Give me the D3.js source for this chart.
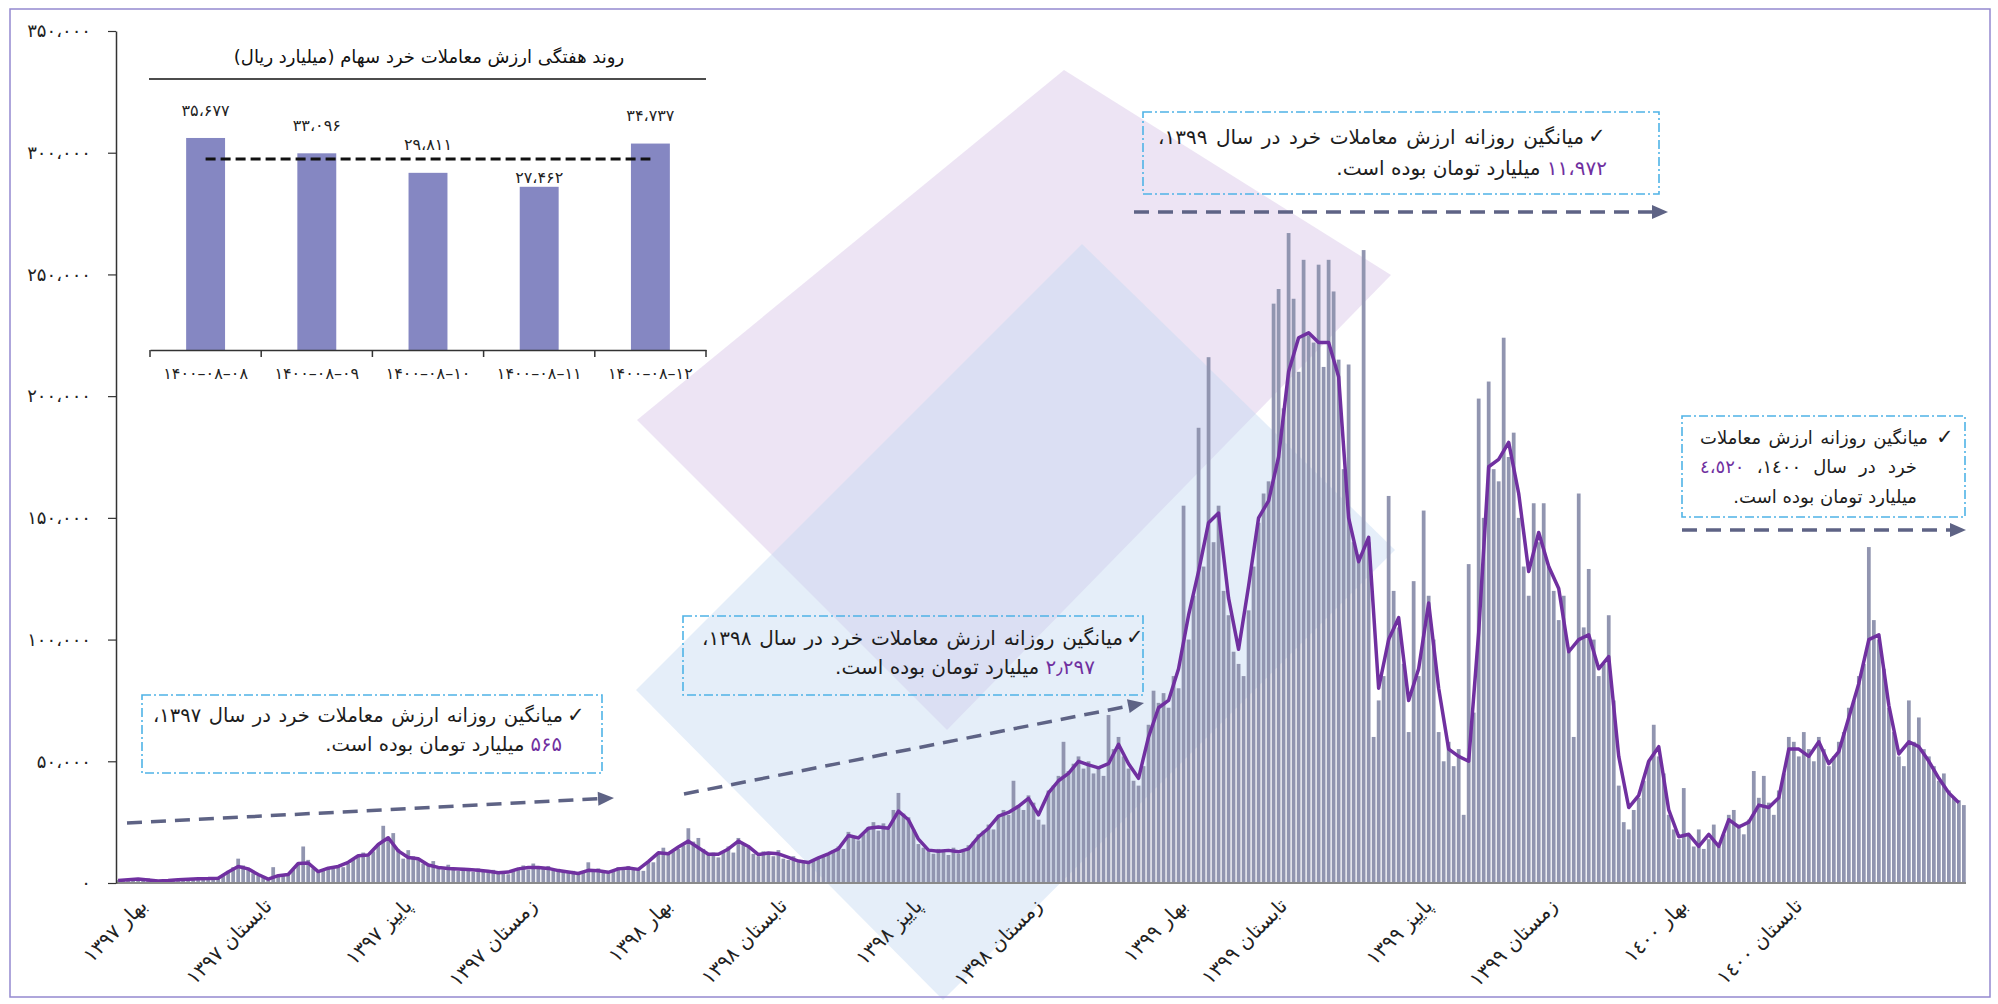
<!DOCTYPE html>
<html><head><meta charset="utf-8">
<script src="https://cdn.jsdelivr.net/npm/d3@7"></script>
<style>
body{margin:0;background:#fff;}
#wrap{position:relative;width:1998px;height:1004px;overflow:hidden;font-family:'DejaVu Sans',sans-serif;background:#fff;}
svg{position:absolute;left:0;top:0;}
.ln{position:absolute;white-space:nowrap;direction:rtl;color:#1d1d1d;line-height:26px;}
.just{display:flex;justify-content:space-between;}
.just > span{flex:0 0 auto;}
.num{color:#7030a0;}
</style></head><body><div id="wrap"></div>
<script>
// ---------- DATA ----------
// daily retail trading value (thousands of billion rial), approx. every other trading day
const dailyValueK = [
1.2,0.8,1.5,2.0,1.1,1.6,1.9,1.3,0.9,0.6,
0.8,1.2,1.0,1.6,1.4,1.9,1.5,2.2,1.8,2.1,
2.5,3.2,5.0,6.5,10.0,7.2,5.5,4.0,3.0,2.2,
1.5,6.5,2.5,3.0,3.6,5.5,8.0,15.0,9.5,6.0,
4.5,5.0,6.5,5.8,7.2,6.5,8.0,9.5,11.0,12.5,
11.0,13.0,16.0,23.5,19.0,20.5,14.0,10.0,13.5,11.0,
9.5,8.0,7.0,9.0,6.5,5.5,7.5,6.0,5.0,6.2,
5.8,4.6,6.0,5.2,4.5,5.4,4.0,4.8,3.6,5.0,
6.0,7.2,5.5,8.0,6.8,6.0,7.0,5.2,5.8,4.6,
4.2,5.0,3.5,4.4,8.5,5.5,6.0,4.6,4.0,5.0,
6.5,5.5,7.0,5.8,6.0,5.0,9.0,8.5,12.0,14.5,
11.5,13.0,14.0,15.5,22.5,17.0,18.5,14.0,11.5,12.5,
10.5,13.0,15.0,12.5,18.5,16.0,14.5,12.0,11.0,13.0,
12.5,11.0,13.5,10.0,9.5,11.0,8.5,9.0,8.0,9.5,
10.0,11.5,12.0,13.5,15.0,14.0,21.0,19.0,17.5,20.0,
23.0,25.0,21.5,24.5,22.0,30.0,37.0,28.5,27.0,22.0,
16.0,14.5,13.0,12.0,14.0,13.5,11.5,14.5,12.0,13.0,
15.5,17.0,20.0,21.5,24.0,22.0,27.5,30.0,28.0,42.0,
32.0,30.0,36.0,33.0,26.0,24.0,38.0,40.0,44.0,58.0,
46.0,49.0,52.0,47.0,50.0,45.0,48.0,44.0,69.0,55.0,
60.0,52.0,47.0,42.0,40.0,48.0,65.0,79.0,74.0,78.0,
72,85,80,155,100,118,187,130,216,140,
155,120,110,95,90,85,112,130,148,160,
165,238,244,195,267,240,210,256,225,222,
254,212,256,243,215,170,213,140,135,260,
140,60,75,85,159,120,105,90,62,124,
85,153,118,100,62,50,58,48,55,28,
131,70,199,150,206,170,165,224,175,185,
150,130,118,156,140,156,130,120,108,118,
95,60,160,105,129,100,85,90,110,75,
40,25,22,30,35,42,50,65,52,45,
28,22,18,39,20,15,22,14,18,24,
15,20,28,30,24,20,26,46,35,44,
33,28,38,45,60,58,52,62,55,50,
60,55,48,52,58,62,72,75,85,90,
138,108,100,88,72,62,52,48,75,58,
68,55,52,48,42,45,38,35,34,32
];
// moving average (thousands), one value per two bars
const movingAvgK = [
1.0,1.3,1.6,1.2,0.8,1.0,1.3,1.5,1.7,1.8,
2.0,4.5,6.8,5.8,3.5,1.6,3.0,3.5,8.0,8.2,
4.7,6.1,6.8,8.5,11.2,11.5,15.8,18.6,13.2,10.5,
10.0,7.4,6.4,6.0,5.8,5.5,5.2,4.8,4.2,4.5,
5.8,6.4,6.4,6.0,5.1,4.5,3.9,5.2,5.0,4.4,
5.8,6.2,5.6,8.8,12.4,12.0,14.8,17.2,14.5,11.8,
11.8,14.0,17.2,15.0,11.7,12.3,12.0,10.5,9.0,8.4,
10.3,12.0,14.0,19.5,18.5,22.5,23.0,22.5,29.5,26.0,
18.0,13.5,13.0,13.4,12.8,14.0,19.0,22.5,27.5,29.0,
31.5,34.8,28.0,37.0,42.0,45.0,50.0,48.5,47.3,49.0,
57.0,49.0,43.0,60.0,72.0,75.0,88.0,110.0,128.0,148.0,
152,117,96,122,150,157,175,210,224,226,
222,222,208,150,132,142,80,100,109,75,
88,115,80,55,52,50,103,171,174,181,
160,128,144,130,121,95,100,102,88,93,
52,31,36,50,56,30,19,20,15,20,
15,26,23,25,32,31,35,55,55,52,
58,49,54,68,82,100,102,73,53,58,
56,50,43,37,33
];
const seasonLabels = ["بهار ۱۳۹۷","تابستان ۱۳۹۷","پاییز ۱۳۹۷","زمستان ۱۳۹۷","بهار ۱۳۹۸","تابستان ۱۳۹۸","پاییز ۱۳۹۸","زمستان ۱۳۹۸","بهار ۱۳۹۹","تابستان ۱۳۹۹","پاییز ۱۳۹۹","زمستان ۱۳۹۹","بهار ۱٤۰۰","تابستان ۱٤۰۰"];
const seasonBarIndex = [5,30,58,83,110,133,160,184,213,233,262,287,313,336];
const yTicks = [0,50000,100000,150000,200000,250000,300000,350000];
const weeklyCats = ["۱۴۰۰–۰۸–۰۸","۱۴۰۰–۰۸–۰۹","۱۴۰۰–۰۸–۱۰","۱۴۰۰–۰۸–۱۱","۱۴۰۰–۰۸–۱۲"];
const weeklyValues = [35677,33096,29811,27462,34737];
const insetTitle = "روند هفتگی ارزش معاملات خرد سهام (میلیارد ریال)";

// ---------- HELPERS ----------
const faDigits = s => String(s).replace(/\d/g, d => '۰۱۲۳۴۵۶۷۸۹'[d]);
const fmt = v => faDigits(d3.format(",")(v)).replace(/,/g,'،');
const W = 1998, H = 1004;
const wrap = d3.select('#wrap');
const svg = wrap.append('svg').attr('width', W).attr('height', H);
const FONT = "'DejaVu Sans', sans-serif";

// ---------- WATERMARK ----------
const wm = svg.append('g');
wm.append('polygon').attr('points','637,420 1064,70 1391,275 947,730').attr('fill','#d6c3e6').attr('opacity',0.45);
wm.append('polygon').attr('points','636,690 1082,244 1395,550 943,1000').attr('fill','#c6daf1').attr('opacity',0.45);

// ---------- MAIN CHART ----------
const x = d3.scaleBand().domain(d3.range(dailyValueK.length)).range([116, 1966]).paddingInner(0.25).paddingOuter(0.05);
const y = d3.scaleLinear().domain([0, 350000]).range([883, 31]);
const bw = x.bandwidth();

svg.append('g').selectAll('rect').data(dailyValueK).join('rect')
  .attr('x', (d,i) => x(i)).attr('width', bw)
  .attr('y', d => y(d*1000)).attr('height', d => y(0) - y(d*1000))
  .attr('fill', '#9195b0');

const line = d3.line().x((d,j) => x(2*j) + bw/2).y(d => y(d*1000)).curve(d3.curveLinear);
svg.append('path').datum(movingAvgK).attr('d', line).attr('fill','none')
  .attr('stroke','#7030a0').attr('stroke-width',3.5).attr('stroke-linejoin','round');

svg.append('line').attr('x1',116).attr('x2',1966).attr('y1',y(0)).attr('y2',y(0)).attr('stroke','#8a8a8a').attr('stroke-width',2);

const yAxis = d3.axisLeft(y).tickValues(yTicks).tickSize(8).tickSizeOuter(0).tickPadding(17).tickFormat(fmt);
const ga = svg.append('g').attr('transform','translate(116,0)').call(yAxis);
ga.select('.domain').attr('stroke','#333').attr('stroke-width',1.5);
ga.selectAll('.tick line').attr('stroke','#333').attr('stroke-width',1.2);
ga.selectAll('text').attr('font-size',18).attr('font-family',FONT).attr('fill','#222');

svg.append('g').selectAll('text').data(seasonLabels).join('text')
  .attr('transform', (d,i) => `translate(${x(seasonBarIndex[i]) + bw/2},902) rotate(-45)`)
  .attr('text-anchor','end').attr('dy','0.35em')
  .attr('font-size',20).attr('font-family',FONT).attr('fill','#222')
  .text(d => d);

// ---------- INSET ----------
const ix = d3.scaleBand().domain(weeklyCats).range([150, 706]).paddingInner(0.65).paddingOuter(0.325);
const iy = d3.scaleLinear().domain([0, 45600]).range([350, 79]);
const ig = svg.append('g');
ig.append('text').attr('x',429).attr('y',57).attr('dy','0.35em').attr('text-anchor','middle')
  .attr('direction','rtl').style('direction','rtl')
  .attr('font-size',18).attr('font-family',FONT).attr('fill','#111').text(insetTitle);
ig.append('line').attr('x1',149).attr('x2',706).attr('y1',79).attr('y2',79).attr('stroke','#111').attr('stroke-width',1.5);
ig.selectAll('rect').data(weeklyValues).join('rect')
  .attr('x',(d,i)=>ix(weeklyCats[i])).attr('width',ix.bandwidth())
  .attr('y',d=>iy(d)).attr('height',d=>iy(0)-iy(d)).attr('fill','#8587c2');
const mean = d3.mean(weeklyValues);
const labelY = d => { const ly = iy(d) - 28; return Math.abs(ly - iy(mean)) < 12 ? iy(mean) + 19 : ly; };
ig.selectAll('text.val').data(weeklyValues).join('text').attr('class','val')
  .attr('x',(d,i)=>ix(weeklyCats[i])+ix.bandwidth()/2).attr('y',labelY).attr('dy','0.35em')
  .attr('text-anchor','middle').attr('font-size',16).attr('font-family',FONT).attr('fill','#222').text(fmt);
ig.append('line').attr('x1',ix(weeklyCats[0])+ix.bandwidth()/2).attr('x2',ix(weeklyCats[4])+ix.bandwidth()/2)
  .attr('y1',iy(mean)).attr('y2',iy(mean)).attr('stroke','#111').attr('stroke-width',3).attr('stroke-dasharray','10,5');
const ixAxis = d3.axisBottom(ix).tickSize(0).tickPadding(18);
const gia = ig.append('g').attr('transform','translate(0,350)').call(ixAxis);
gia.select('.domain').attr('stroke','#333').attr('stroke-width',1.5);
gia.selectAll('text').attr('font-size',16).attr('font-family',FONT).attr('fill','#222');
const bounds = weeklyCats.map(c => ix(c) - ix.step()*ix.paddingInner()/2).concat([706]);
ig.selectAll('line.bt').data(bounds).join('line').attr('class','bt')
  .attr('x1',d=>d).attr('x2',d=>d).attr('y1',350).attr('y2',357).attr('stroke','#333').attr('stroke-width',1.5);

// ---------- ANNOTATIONS ----------
const boxes = [
 {x0:142,y0:695,x1:602,y1:773,cx:573,lines:[
   {cy:716,left:153,right:563,words:["میانگین","روزانه","ارزش","معاملات","خرد","در","سال","۱۳۹۷،"]},
   {cy:745,right:562,html:'<span class="num">۵۶۵</span> میلیارد تومان بوده است.'}]},
 {x0:683,y0:616,x1:1143,y1:695,cx:1132,lines:[
   {cy:638,left:702,right:1123,words:["میانگین","روزانه","ارزش","معاملات","خرد","در","سال","۱۳۹۸،"]},
   {cy:667,right:1095,html:'<span class="num">۲٫۲۹۷</span> میلیارد تومان بوده است.'}]},
 {x0:1143,y0:112,x1:1659,y1:194,cx:1594,lines:[
   {cy:137,left:1158,right:1584,words:["میانگین","روزانه","ارزش","معاملات","خرد","در","سال","۱۳۹۹،"]},
   {cy:168,right:1607,html:'<span class="num">۱۱،۹۷۲</span> میلیارد تومان بوده است.'}]},
 {x0:1682,y0:416,x1:1965,y1:517,cx:1942,lines:[
   {cy:438,left:1700,right:1928,words:["میانگین","روزانه","ارزش","معاملات"]},
   {cy:467,left:1700,right:1917,words:["خرد","در","سال","۱٤۰۰،",'<span class="num">٤،٥٢٠</span>']},
   {cy:497,right:1917,html:'میلیارد تومان بوده است.'}]}
];
const FS = 20;
boxes.forEach(b => {
  svg.append('rect').attr('x',b.x0).attr('y',b.y0).attr('width',b.x1-b.x0).attr('height',b.y1-b.y0)
    .attr('fill','none').attr('stroke','#4fb3e6').attr('stroke-width',1.6).attr('stroke-dasharray','9,3,2,3');
  wrap.append('div').attr('class','ln').style('left',(b.cx-6)+'px').style('top',(b.lines[0].cy-14)+'px')
    .style('font-size','21px').style('font-weight','bold').text('✓');
  let boxFs = FS;
  const divs = [];
  b.lines.forEach(l => {
    const d = wrap.append('div').attr('class','ln' + (l.words ? ' just' : ''))
      .style('top',(l.cy-13)+'px').style('font-size',FS+'px');
    if (l.words) {
      d.style('left',l.left+'px').style('width',(l.right-l.left)+'px');
      l.words.forEach(w => d.append('span').html(w));
      const need = () => {
        const kids = Array.from(d.node().children);
        return d3.sum(kids, k => k.getBoundingClientRect().width) + 7*(kids.length-1);
      };
      d.style('font-size', boxFs+'px');
      while (need() > (l.right - l.left) && boxFs > 10) { boxFs -= 0.5; d.style('font-size',boxFs+'px'); }
    } else {
      d.style('right',(W-l.right)+'px').html(l.html);
    }
    divs.push(d);
  });
  divs.forEach(d => d.style('font-size', boxFs+'px'));
});

function arrow(x1,y1,x2,y2){
  const a = Math.atan2(y2-y1,x2-x1), L = 16, hw = 7;
  const bx = x2 - L*Math.cos(a), by = y2 - L*Math.sin(a);
  svg.append('line').attr('x1',x1).attr('y1',y1).attr('x2',bx).attr('y2',by)
    .attr('stroke','#5e6385').attr('stroke-width',3.5).attr('stroke-dasharray','15,9');
  svg.append('polygon').attr('points',[[x2,y2],[bx-hw*Math.sin(a),by+hw*Math.cos(a)],[bx+hw*Math.sin(a),by-hw*Math.cos(a)]].map(p=>p.join(',')).join(' '))
    .attr('fill','#5e6385');
}
arrow(127,823,614,798);
arrow(684,794,1144,703);
arrow(1134,212,1668,212);
arrow(1682,530,1966,530);

svg.append('rect').attr('x',10).attr('y',9).attr('width',1980).attr('height',988).attr('fill','none').attr('stroke','#9489cf').attr('stroke-width',1.5);
</script></body></html>
